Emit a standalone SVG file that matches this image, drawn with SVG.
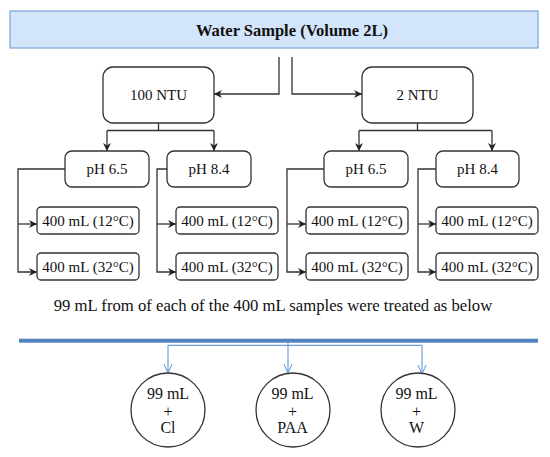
<svg xmlns="http://www.w3.org/2000/svg" width="550" height="457" viewBox="0 0 550 457">
<defs>
<marker id="ah" viewBox="0 0 10 10" markerUnits="userSpaceOnUse" markerWidth="9" markerHeight="8" refX="10" refY="5" orient="auto">
<path d="M0,0 L10,5 L0,10 L3,5 z" fill="#222"/>
</marker>
<marker id="ab" viewBox="0 0 10 10" markerUnits="userSpaceOnUse" markerWidth="9" markerHeight="12" refX="10" refY="5" orient="auto">
<path d="M0,0.5 L10,5 L0,9.5" fill="none" stroke="#6e9fd9" stroke-width="1.2"/>
</marker>
<style>
.t{font-family:"Liberation Serif","Times New Roman",serif;fill:#111;text-anchor:middle}
.b{fill:#fff;stroke:#333;stroke-width:1.3}
.c{fill:none;stroke:#333;stroke-width:1.3}
.a{fill:none;stroke:#333;stroke-width:1.3;marker-end:url(#ah)}
.ba{fill:none;stroke:#6e9fd9;stroke-width:1.2;marker-end:url(#ab)}
.f15{font-size:15px}
.f16{font-size:16px}
</style>
</defs>
<rect width="550" height="457" fill="#fff"/>

<g id="water-sample">
<rect x="10" y="11" width="528" height="37" fill="#d2e5fa" stroke="#80aadb" stroke-width="1.3"/>
<text class="t" x="292" y="36" font-size="16.5" font-weight="bold">Water Sample (Volume 2L)</text>
</g>

<g id="connectors">
<path class="a" d="M279,57 V94 H214"/>
<path class="a" d="M292,57 V94 H362"/>
<path class="c" d="M158.5,123 V130.5 M107,130.5 H214"/>
<path class="a" d="M107,130.5 V151"/>
<path class="a" d="M214,130.5 V151"/>
<path class="c" d="M417.5,123 V130.5 M359,130.5 H492"/>
<path class="a" d="M359,130.5 V151"/>
<path class="a" d="M492,130.5 V151"/>
<path class="a" d="M65,169 H18 V272 H37"/>
<path class="a" d="M18,224 H37"/>
<path class="a" d="M167,169 H157 V272 H176"/>
<path class="a" d="M157,224 H176"/>
<path class="a" d="M324,169 H287 V272 H306"/>
<path class="a" d="M287,224 H306"/>
<path class="a" d="M436,169 H418 V272 H436"/>
<path class="a" d="M418,224 H436"/>
<path class="c" d="M168,345.3 H422" stroke="#6e9fd9" style="stroke:#6e9fd9;stroke-width:1.2"/>
<path class="ba" d="M168,345.3 V373"/>
<path class="ba" d="M288,342 V373"/>
<path class="ba" d="M422,345.3 V374"/>
</g>

<g id="ntu-100">
<rect class="b" x="103" y="67" width="111" height="56" rx="10"/>
<text class="t f15" x="158.5" y="100">100 NTU</text>
</g>
<g id="ntu-2">
<rect class="b" x="362" y="67" width="111" height="56" rx="10"/>
<text class="t f15" x="417.5" y="100">2 NTU</text>
</g>

<g id="ph65-a">
<rect class="b" x="65" y="151" width="84" height="36" rx="7"/>
<text class="t f15" x="107" y="174">pH 6.5</text>
</g>
<g id="ph84-a">
<rect class="b" x="167" y="151" width="84" height="36" rx="7"/>
<text class="t f15" x="209" y="174">pH 8.4</text>
</g>
<g id="ph65-b">
<rect class="b" x="324" y="151" width="84" height="36" rx="7"/>
<text class="t f15" x="366" y="174">pH 6.5</text>
</g>
<g id="ph84-b">
<rect class="b" x="436" y="151" width="83" height="36" rx="7"/>
<text class="t f15" x="477.5" y="174">pH 8.4</text>
</g>

<g id="s-a1"><rect class="b" x="37" y="207" width="102" height="27" rx="4"/><text class="t f15" x="88" y="225.5">400 mL (12°C)</text></g>
<g id="s-a2"><rect class="b" x="37" y="253" width="102" height="27" rx="4"/><text class="t f15" x="88" y="271.5">400 mL (32°C)</text></g>
<g id="s-b1"><rect class="b" x="176" y="207" width="102" height="27" rx="4"/><text class="t f15" x="227" y="225.5">400 mL (12°C)</text></g>
<g id="s-b2"><rect class="b" x="176" y="253" width="102" height="27" rx="4"/><text class="t f15" x="227" y="271.5">400 mL (32°C)</text></g>
<g id="s-c1"><rect class="b" x="306" y="207" width="102" height="27" rx="4"/><text class="t f15" x="357" y="225.5">400 mL (12°C)</text></g>
<g id="s-c2"><rect class="b" x="306" y="253" width="102" height="27" rx="4"/><text class="t f15" x="357" y="271.5">400 mL (32°C)</text></g>
<g id="s-d1"><rect class="b" x="436" y="207" width="102" height="27" rx="4"/><text class="t f15" x="487" y="225.5">400 mL (12°C)</text></g>
<g id="s-d2"><rect class="b" x="436" y="253" width="102" height="27" rx="4"/><text class="t f15" x="487" y="271.5">400 mL (32°C)</text></g>

<g id="caption">
<text class="t" x="273" y="311" font-size="16.7">99 mL from of each of the 400 mL samples were treated as below</text>
<rect x="19" y="338.7" width="519" height="4" fill="#5083c0"/>
</g>

<g id="treat-cl">
<circle class="b" cx="168" cy="410" r="37"/>
<text class="t f16" x="168" y="399">99 mL</text>
<text class="t f16" x="168" y="416.5">+</text>
<text class="t f16" x="168" y="433">Cl</text>
</g>
<g id="treat-paa">
<circle class="b" cx="293" cy="410" r="37"/>
<text class="t f16" x="292.5" y="399">99 mL</text>
<text class="t f16" x="292.5" y="416.5">+</text>
<text class="t f16" x="292.5" y="433">PAA</text>
</g>
<g id="treat-w">
<circle class="b" cx="418" cy="410" r="37"/>
<text class="t f16" x="416.5" y="399">99 mL</text>
<text class="t f16" x="416.5" y="416.5">+</text>
<text class="t f16" x="416.5" y="433">W</text>
</g>
</svg>
